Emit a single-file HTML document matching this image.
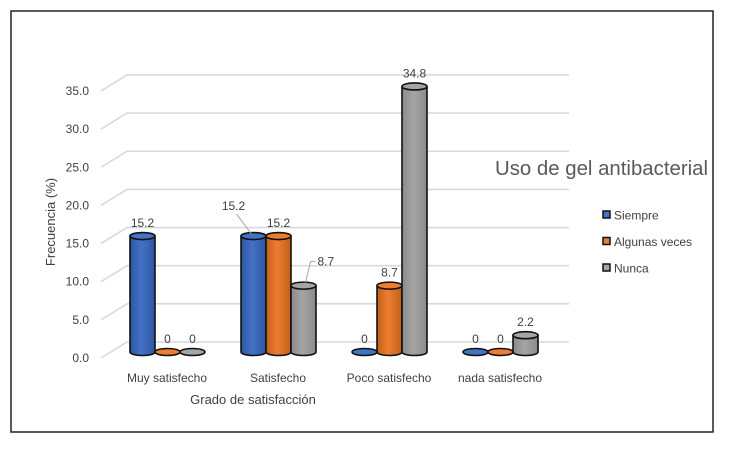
<!DOCTYPE html>
<html><head><meta charset="utf-8">
<style>
html,body{margin:0;padding:0;background:#fff;}
svg{display:block;font-family:"Liberation Sans",sans-serif;}
</style></head>
<body>
<svg id="chart" width="729" height="449" viewBox="0 0 729 449">
<rect x="11" y="11" width="702" height="421" fill="#fff" stroke="#222" stroke-width="1.5"/>
<g id="grid"></g>
<g id="yticks"></g>
<g id="bars"></g>
<g id="xlabels"></g>
<text x="253" y="404" font-size="13" fill="#404040" text-anchor="middle">Grado de satisfacción</text>
<text x="0" y="0" font-size="13" fill="#404040" text-anchor="middle" transform="translate(55,222) rotate(-90)">Frecuencia (%)</text>
<text x="495" y="175" font-size="20" fill="#595959" textLength="213" lengthAdjust="spacingAndGlyphs">Uso de gel antibacterial</text>
<g id="legend"></g>
</svg>
<script>
const categories = ["Muy satisfecho","Satisfecho","Poco satisfecho","nada satisfecho"];
const seriesNames = ["Siempre","Algunas veces","Nunca"];
const siempre = [15.2,15.2,0,0];
const algunas = [0,15.2,8.7,0];
const nunca = [0,8.7,34.8,2.2];
const yTicks = [0,5,10,15,20,25,30,35];
const yTickLabels = ["0.0","5.0","10.0","15.0","20.0","25.0","30.0","35.0"];

const NS="http://www.w3.org/2000/svg";
function mk(t,a,p){const e=document.createElementNS(NS,t);for(const k in a)e.setAttribute(k,a[k]);p.appendChild(e);return e;}
const unit=7.63;
const yBack=v=>342-v*unit;
const yFront=v=>352-v*unit;
const grid=document.getElementById('grid');
const yt=document.getElementById('yticks');
yTicks.forEach((v,i)=>{
  const y=yBack(v);
  const l=mk('polyline',{points:`101,${y+16} 127,${y} 569,${y}`,fill:'none',stroke:'#d9d9d9','stroke-width':1.6},grid);
  
  
  const t=mk('text',{x:89,y:y+20,'font-size':12,fill:'#404040','text-anchor':'end'},yt);
  t.textContent=yTickLabels[i];
  
  
});
const groupX=i=>130+i*111;
const barW=25;
const fills=[["#2f55a5","#4472c4","#6f93d8"],["#c0601a","#ed7d31","#f4a26a"],["#8a8a8a","#a5a5a5","#c8c8c8"]];
const series=[siempre,algunas,nunca];
const bars=document.getElementById('bars');
const defs=mk('defs',{},bars);
fills.forEach((f,i)=>{
  const g=mk('linearGradient',{id:'g'+i,x1:0,x2:1,y1:0,y2:0},defs);
  mk('stop',{offset:'0','stop-color':f[0]},g);
  mk('stop',{offset:'0.45','stop-color':f[1]},g);
  mk('stop',{offset:'1','stop-color':f[0]},g);
});
categories.forEach((c,ci)=>{
  series.forEach((s,si)=>{
    const v=s[ci];
    const x=groupX(ci)+si*barW;
    const cx=x+barW/2, rx=barW/2, ry=3.5;
    const yb=yFront(0), ytop=yFront(v);
    const g=mk('g',{},bars);
    
    
    if(v>0){
      mk('path',{d:`M${x},${ytop} L${x},${yb} A${rx},${ry} 0 0 0 ${x+barW},${yb} L${x+barW},${ytop} Z`,fill:'url(#g'+si+')',stroke:'#111','stroke-width':1.6},g);
    }
    mk('ellipse',{cx:cx,cy:ytop,rx:rx,ry:ry,fill:fills[si][1],stroke:'#111','stroke-width':1.6},g);
    let lx=cx, ly=ytop-9, anchor='middle';
    if(ci===1 && si===0){
      lx=cx-20; ly=ytop-26;
      mk('line',{x1:cx-17,y1:ytop-22,x2:cx-2,y2:ytop-2,stroke:'#a6a6a6','stroke-width':1},bars);
    }
    if(ci===1 && si===2){
      lx=cx+14; ly=ytop-20; anchor='start';
      mk('polyline',{points:`${cx+12},${ytop-24} ${cx+7},${ytop-24} ${cx+2},${ytop-3}`,fill:'none',stroke:'#a6a6a6','stroke-width':1},bars);
    }
    const lab=mk('text',{x:lx,y:ly,'font-size':12,fill:'#404040','text-anchor':anchor},bars);
    lab.textContent=String(v);
    
    
  });
  const t=mk('text',{x:groupX(ci)+37,y:382,'font-size':12,fill:'#404040','text-anchor':'middle'},document.getElementById('xlabels'));
  t.textContent=c;
  
  
});
const leg=document.getElementById('legend');
seriesNames.forEach((n,i)=>{
  const y=215+i*26.5;
  const r=mk('rect',{x:603,y:y-4,width:7,height:7,fill:fills[i][1],stroke:'#111','stroke-width':1.5},leg);
  
  
  const t=mk('text',{x:614,y:y+4.5,'font-size':12,fill:'#404040'},leg);
  t.textContent=n;
  
  
});
</script>
</body></html>
